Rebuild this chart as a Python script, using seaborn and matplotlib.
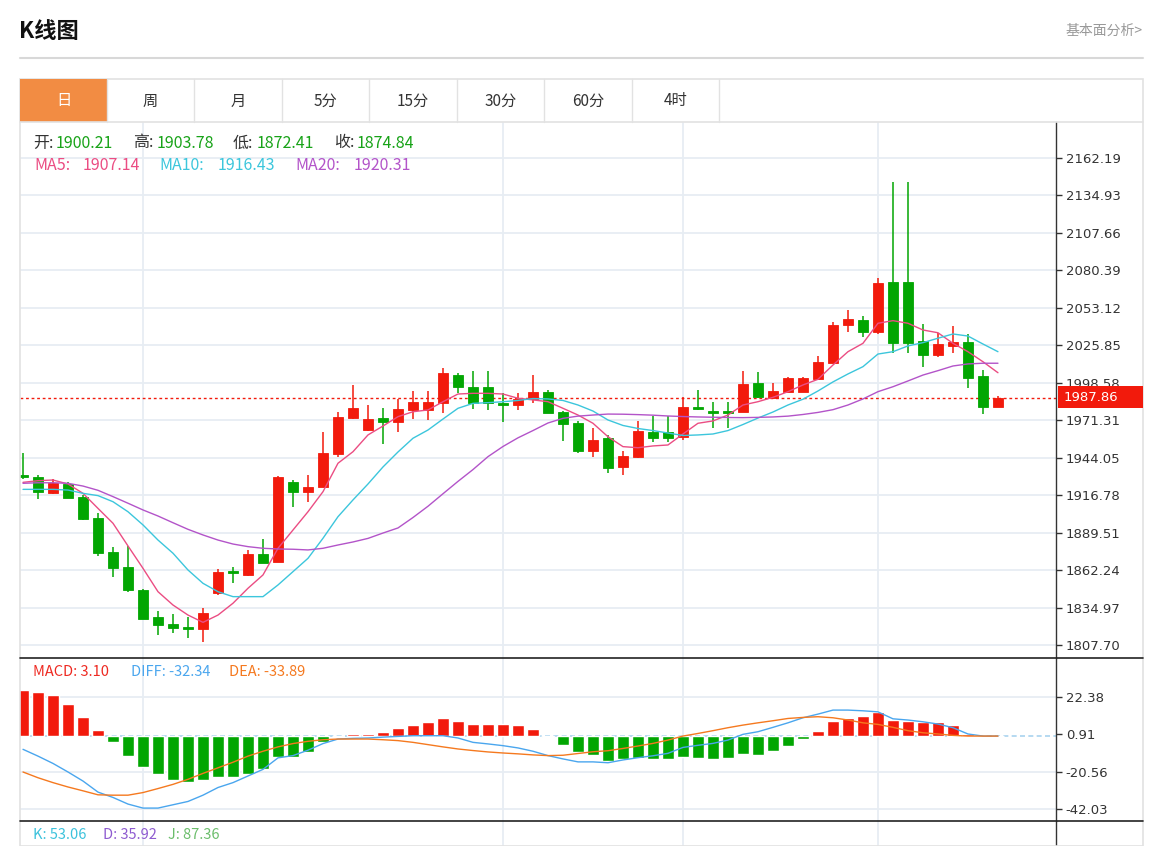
import numpy as np
import pandas as pd
import seaborn as sns
import matplotlib
matplotlib.use('Agg')
import matplotlib.pyplot as plt
from matplotlib.patches import Rectangle
from matplotlib.lines import Line2D

# ---- daily K-line data ----
opens = [1931.5, 1930.0, 1918.4, 1924.9, 1915.4, 1900.21, 1875.4, 1864.5, 1847.7, 1828.1,
         1823.0, 1820.8, 1819.3, 1845.6, 1861.6, 1858.7, 1873.9, 1868.1, 1926.4, 1919.1,
         1922.7, 1946.7, 1973.0, 1964.2, 1973.0, 1970.0, 1978.8, 1978.8, 1983.9, 2004.3,
         1995.5, 1995.5, 1983.9, 1982.4, 1986.8, 1991.9, 1977.3, 1969.3, 1948.9, 1958.4,
         1937.3, 1944.6, 1962.8, 1962.5, 1959.1, 1981.0, 1978.0, 1978.0, 1977.3, 1998.4,
         1987.5, 1991.9, 1991.9, 2001.3, 2013.0, 2040.6, 2044.3, 2035.5, 2072.0, 2072.0,
         2029.0, 2018.8, 2025.4, 2028.3, 2003.5, 1981.0]
highs = [1947.5, 1931.5, 1928.5, 1926.4, 1916.9, 1903.78, 1879.0, 1879.8, 1848.5, 1832.5,
         1830.3, 1828.1, 1834.6, 1863.0, 1864.5, 1876.9, 1884.9, 1930.7, 1927.8, 1931.5,
         1962.8, 1977.3, 1997.0, 1982.4, 1980.2, 1986.8, 1992.6, 1992.6, 2009.3, 2005.7,
         2007.2, 2007.2, 1991.2, 1991.2, 2004.3, 1993.3, 1978.0, 1970.8, 1965.7, 1960.6,
         1948.9, 1970.8, 1974.4, 1974.4, 1988.2, 1993.3, 1984.6, 1984.6, 2007.2, 2006.4,
         1998.4, 2002.8, 2002.8, 2018.1, 2042.8, 2051.6, 2047.2, 2074.9, 2144.8, 2144.8,
         2041.4, 2034.8, 2039.9, 2034.1, 2007.9, 1989.0]
lows = [1928.5, 1914.0, 1917.8, 1914.7, 1898.7, 1872.41, 1857.2, 1846.3, 1826.6, 1815.0,
        1816.4, 1812.8, 1809.9, 1844.1, 1852.8, 1857.9, 1867.4, 1868.1, 1908.2, 1911.8,
        1922.7, 1944.6, 1972.2, 1963.5, 1954.0, 1962.8, 1972.2, 1971.5, 1976.6, 1991.2,
        1979.5, 1978.8, 1970.0, 1978.8, 1983.9, 1976.6, 1956.2, 1947.5, 1944.6, 1932.9,
        1931.5, 1943.8, 1955.5, 1955.5, 1956.9, 1978.8, 1965.7, 1965.7, 1977.3, 1987.5,
        1987.5, 1991.9, 1991.9, 2000.6, 2013.0, 2035.5, 2031.9, 2034.1, 2020.3, 2020.3,
        2010.1, 2017.4, 2020.3, 1994.8, 1975.9, 1981.0]
closes = [1930.0, 1919.1, 1925.6, 1914.7, 1899.4, 1874.84, 1863.8, 1847.7, 1826.6, 1822.3,
          1820.1, 1819.3, 1831.0, 1860.8, 1860.1, 1873.9, 1867.4, 1930.0, 1919.1, 1922.7,
          1947.5, 1973.7, 1980.2, 1972.2, 1970.0, 1979.5, 1984.6, 1984.6, 2005.7, 1995.5,
          1983.9, 1983.9, 1982.4, 1986.8, 1991.9, 1976.6, 1968.6, 1948.9, 1956.9, 1936.6,
          1945.3, 1963.5, 1958.4, 1958.6, 1981.0, 1979.5, 1976.6, 1976.6, 1997.7, 1988.2,
          1992.6, 2002.1, 2002.1, 2013.7, 2040.6, 2045.0, 2035.2, 2071.2, 2027.5, 2027.5,
          2018.8, 2026.8, 2028.3, 2002.1, 1981.0, 1987.86]

ma5 = [1926.1, 1927.3, 1927.8, 1924.9, 1918.1, 1907.14, 1896.3, 1879.8, 1863.5, 1846.5,
       1836.8, 1829.5, 1824.2, 1829.5, 1838.1, 1849.0, 1858.7, 1878.1, 1891.4, 1904.7,
       1919.3, 1940.0, 1948.4, 1960.6, 1967.1, 1973.9, 1977.5, 1978.8, 1984.8, 1990.4,
       1990.9, 1990.9, 1990.4, 1987.3, 1986.1, 1984.8, 1980.0, 1975.1, 1969.1, 1959.3,
       1952.1, 1951.3, 1952.6, 1953.3, 1961.3, 1969.1, 1970.8, 1975.1, 1982.4, 1984.8,
       1988.0, 1992.1, 1997.0, 2001.1, 2011.5, 2021.2, 2027.3, 2041.9, 2043.8, 2041.9,
       2037.0, 2035.0, 2027.3, 2021.2, 2013.9, 2005.9]
ma10 = [1921.0, 1921.0, 1921.0, 1920.5, 1918.1, 1916.43, 1912.0, 1904.7, 1895.1, 1884.1,
        1874.5, 1862.3, 1852.6, 1846.5, 1842.9, 1842.9, 1842.9, 1851.4, 1861.1, 1870.8,
        1885.4, 1901.1, 1913.3, 1924.9, 1937.3, 1948.2, 1958.2, 1964.2, 1972.2, 1980.0,
        1983.6, 1984.1, 1984.8, 1985.7, 1987.1, 1986.8, 1985.7, 1982.4, 1978.0, 1971.5,
        1967.5, 1965.3, 1963.8, 1962.0, 1960.2, 1960.6, 1961.3, 1963.8, 1968.2, 1972.9,
        1977.3, 1982.4, 1986.6, 1992.6, 1999.2, 2005.0, 2010.3, 2019.5, 2021.2, 2025.4,
        2027.8, 2031.0, 2034.1, 2032.6, 2026.8, 2021.2]
ma20 = [1925.4, 1925.8, 1925.8, 1925.4, 1923.4, 1920.31, 1915.7, 1910.9, 1906.0, 1901.6,
        1896.7, 1891.9, 1887.8, 1884.1, 1881.2, 1879.3, 1878.1, 1877.6, 1877.4, 1876.9,
        1878.1, 1880.5, 1882.7, 1885.3, 1889.2, 1892.9, 1900.5, 1908.7, 1917.8, 1926.8,
        1935.4, 1944.8, 1952.2, 1958.5, 1963.8, 1969.3, 1972.7, 1974.3, 1975.1, 1975.8,
        1975.7, 1975.4, 1975.0, 1974.4, 1974.0, 1973.7, 1973.5, 1973.3, 1973.2, 1973.4,
        1973.7, 1974.3, 1975.5, 1977.0, 1979.0, 1982.4, 1986.8, 1992.1, 1995.7, 1999.9,
        2004.2, 2007.4, 2010.8, 2012.3, 2012.8, 2012.8]

macd_hist = [26.5, 25.2, 23.1, 18.0, 11.0, 3.10, -3.8, -11.4, -18.0, -22.2,
             -25.2, -26.5, -25.6, -23.5, -23.7, -22.0, -19.3, -12.3, -12.3, -9.3,
             -3.8, -0.3, 0.8, 0.8, 2.1, 4.7, 6.4, 8.1, 10.2, 8.5,
             7.0, 7.0, 6.6, 5.9, 3.8, -0.9, -5.3, -9.3, -11.2, -14.3,
             -13.5, -12.6, -13.5, -13.5, -12.0, -13.0, -13.5, -12.6, -10.7, -10.9,
             -8.8, -5.7, -1.9, 2.9, 8.2, 10.1, 11.3, 13.5, 9.0, 8.4,
             8.0, 8.0, 5.9, 1.0, 0.0, 0.0]
diff = [-7.8, -11.7, -15.9, -20.8, -26.0, -32.34, -35.4, -39.2, -41.5, -41.5,
        -39.6, -37.7, -34.1, -29.7, -26.9, -23.1, -19.3, -12.7, -11.4, -8.3,
        -4.5, -1.9, -1.5, -1.3, -0.8, -0.4, 0.0, 0.0, 0.0, -1.3,
        -3.8, -4.7, -5.7, -7.0, -8.9, -11.4, -13.3, -15.0, -15.0, -15.5,
        -13.9, -12.6, -11.5, -10.1, -6.7, -5.5, -4.4, -2.5, 0.8, 2.3,
        4.8, 7.4, 10.3, 12.4, 14.7, 14.7, 14.3, 13.7, 9.7, 9.0,
        8.0, 6.7, 4.6, 1.0, -0.2, -0.2]
dea = [-20.8, -24.1, -26.9, -29.4, -31.6, -33.89, -34.1, -34.1, -32.6, -30.3,
       -27.9, -25.0, -21.6, -18.4, -15.2, -11.7, -8.9, -6.4, -4.5, -3.2,
       -2.3, -1.9, -1.9, -1.9, -2.3, -2.8, -3.8, -5.1, -6.4, -7.6,
       -8.5, -9.3, -9.9, -10.4, -11.0, -11.4, -11.2, -10.2, -9.2, -8.6,
       -7.3, -5.9, -4.4, -2.5, -0.2, 1.3, 2.9, 4.6, 6.1, 7.4,
       8.6, 9.9, 10.5, 10.9, 10.3, 9.0, 7.4, 6.5, 4.8, 2.9,
       1.7, 1.0, 0.2, -0.2, -0.2, -0.2]

price_ticks = [1807.70, 1834.97, 1862.24, 1889.51, 1916.78, 1944.05, 1971.31,
               1998.58, 2025.85, 2053.12, 2080.39, 2107.66, 2134.93, 2162.19]
macd_ticks = [22.38, 0.91, -20.56, -42.03]
macd_tick_labels = ['22.38', '0.91', '-20.56', '-42.03']
month_starts = [8, 32, 44, 57]

tabs = ['日', '周', '月', '5分', '15分', '30分', '60分', '4时']

# ---- colours ----
RED = '#f21a0c'
GREEN = '#02a602'
GREEN_TXT = '#18a318'
PINK = '#eb4d83'
CYAN = '#3cc6dc'
PURPLE = '#b354c9'
BLUE = '#4aa6ee'
ORANGE = '#f5791f'
GRID = '#e7edf3'
BORDER = '#e2e2e2'
DARK = '#333333'

sns.set_theme(style='white')
plt.rcParams['font.family'] = ['Noto Sans CJK SC', 'DejaVu Sans']

W, H = 1166, 846
fig = plt.figure(figsize=(W / 100, H / 100), dpi=100)
fig.patch.set_facecolor('white')


def fx(x):
    return x / W


def fy(y):
    return 1 - y / H


def axes_px(left, top, right, bottom):
    return fig.add_axes([left / W, 1 - bottom / H, (right - left) / W, (bottom - top) / H])


def hline(x0, x1, y, color, lw):
    fig.add_artist(Line2D([fx(x0), fx(x1)], [fy(y), fy(y)], color=color, lw=lw))


def vline(x, y0, y1, color, lw):
    fig.add_artist(Line2D([fx(x), fx(x)], [fy(y0), fy(y1)], color=color, lw=lw))


# ---- page header ----
fig.text(fx(19), fy(32), 'K线图', fontsize=16, fontweight='bold', color='#111111', va='center')
fig.text(fx(1143), fy(31), '基本面分析>', fontsize=10, color='#999999', va='center', ha='right')
hline(20, 1143, 58, '#d8d8d8', 1.5)

# tab bar
fig.add_artist(Rectangle((fx(20), fy(846)), fx(1143) - fx(20), fy(79) - fy(846),
                         facecolor='none', edgecolor=BORDER, lw=1.2))
fig.add_artist(Rectangle((fx(20), fy(122)), fx(107) - fx(20), fy(79) - fy(122),
                         facecolor='#f28c43', edgecolor='none'))
hline(20, 1143, 122, BORDER, 1.2)
tab_edges = [20, 107, 194, 282, 369, 457, 544, 632, 719]
for k, name in enumerate(tabs):
    if k > 0:
        vline(tab_edges[k], 79, 122, BORDER, 1.0)
    cx = (tab_edges[k] + tab_edges[k + 1]) / 2
    fig.text(fx(cx), fy(101), name, fontsize=11, ha='center', va='center',
             color='white' if k == 0 else DARK)
vline(719, 79, 122, BORDER, 1.0)

# ---- axes ----
ax = axes_px(20, 122, 1056, 658)
ax_macd = axes_px(20, 658, 1056, 821)
ax_kdj = axes_px(20, 821, 1056, 846)

idx = np.arange(len(closes))
o = np.array(opens)
c = np.array(closes)
up = c >= o
cols = np.where(up, RED, GREEN)

for a in (ax, ax_macd, ax_kdj):
    a.set_facecolor('white')
    a.set_xlim(-0.2, 68.87)
    for s in ('top', 'left', 'bottom'):
        a.spines[s].set_visible(False)
    a.spines['right'].set_color(DARK)
    a.spines['right'].set_linewidth(1.0)
    a.set_xticks(month_starts)
    a.tick_params(axis='x', length=0, labelbottom=False)
    for m in month_starts:
        a.axvline(m, color=GRID, lw=1.3, zorder=0)

# main price panel
ax.set_ylim(1798.24, 2188.4)
for t in price_ticks:
    ax.axhline(t, color=GRID, lw=1.3, zorder=0)
ax.vlines(idx, lows, highs, colors=cols, lw=1.1, zorder=3)
ax.bar(idx, np.abs(c - o), bottom=np.minimum(o, c), width=0.72, color=cols,
       edgecolor=cols, linewidth=0.6, zorder=4)
sns.lineplot(x=idx, y=ma5, ax=ax, color=PINK, lw=1.0, zorder=5)
sns.lineplot(x=idx, y=ma10, ax=ax, color=CYAN, lw=1.0, zorder=5)
sns.lineplot(x=idx, y=ma20, ax=ax, color=PURPLE, lw=1.0, zorder=5)
ax.axhline(closes[-1], color=RED, ls=(0, (2, 2)), lw=1.0, zorder=2)
ax.yaxis.tick_right()
ax.set_yticks(price_ticks)
ax.set_yticklabels([f'{t:.2f}' for t in price_ticks], fontfamily='DejaVu Sans')
ax.tick_params(axis='y', right=True, length=4, width=1, color=DARK, pad=3,
               labelsize=9.5, labelcolor=DARK)
ax.set_xlabel('')
ax.set_ylabel('')

# MACD panel
ax_macd.set_ylim(-48.91, 44.58)
for t in (22.38, -20.56, -42.03):
    ax_macd.axhline(t, color=GRID, lw=1.3, zorder=0)
ax_macd.axhline(0, color='#a9d3ef', ls=(0, (3, 2)), lw=1.2, zorder=1)
h = np.array(macd_hist)
ax_macd.bar(idx, h, width=0.75, color=np.where(h >= 0, RED, GREEN), zorder=3)
sns.lineplot(x=idx, y=diff, ax=ax_macd, color=BLUE, lw=1.0, zorder=4)
sns.lineplot(x=idx, y=dea, ax=ax_macd, color=ORANGE, lw=1.0, zorder=4)
ax_macd.yaxis.tick_right()
ax_macd.set_yticks(macd_ticks)
ax_macd.set_yticklabels(macd_tick_labels, fontfamily='DejaVu Sans')
ax_macd.tick_params(axis='y', right=True, length=4, width=1, color=DARK, pad=3,
                    labelsize=9.5, labelcolor=DARK)
ax_macd.set_xlabel('')
ax_macd.set_ylabel('')

# KDJ panel (only its header is visible)
ax_kdj.set_ylim(0, 1)
ax_kdj.set_yticks([])

# panel separators
hline(20, 1143, 658, '#222222', 1.2)
hline(20, 1143, 821, '#222222', 1.2)

# last price label on the axis
fig.add_artist(Rectangle((fx(1058), fy(408)), fx(1143) - fx(1058), fy(386) - fy(408),
                         facecolor=RED, edgecolor='none'))
fig.text(fx(1064), fy(397.5), f'{closes[-1]:.2f}', fontsize=9.5, color='white',
         va='center', fontfamily='DejaVu Sans')

# ---- legend rows ----
row1 = [('开:', 33, DARK), ('1900.21', 56, GREEN_TXT), ('高:', 133, DARK), ('1903.78', 157, GREEN_TXT),
        ('低:', 233, DARK), ('1872.41', 257, GREEN_TXT), ('收:', 334, DARK), ('1874.84', 357, GREEN_TXT)]
row2 = [('MA5:', 34, PINK), ('1907.14', 83, PINK), ('MA10:', 159, CYAN), ('1916.43', 218, CYAN),
        ('MA20:', 295, PURPLE), ('1920.31', 354, PURPLE)]
row3 = [('MACD: 3.10', 33, '#ee2a22'), ('DIFF: -32.34', 131, BLUE), ('DEA: -33.89', 229, ORANGE)]
row4 = [('K: 53.06', 33, '#3cc2dc'), ('D: 35.92', 103, '#8e5bd0'), ('J: 87.36', 168, '#6bbd6b')]

for txt, x, col in row1:
    fig.text(fx(x), fy(143), txt, fontsize=11.5, color=col, va='center')
for txt, x, col in row2:
    fig.text(fx(x), fy(166), txt, fontsize=11.5, color=col, va='center')
for txt, x, col in row3:
    fig.text(fx(x), fy(672), txt, fontsize=10.5, color=col, va='center')
for txt, x, col in row4:
    fig.text(fx(x), fy(835), txt, fontsize=10.5, color=col, va='center')

fig.savefig('out.png', dpi=100, facecolor='white')
